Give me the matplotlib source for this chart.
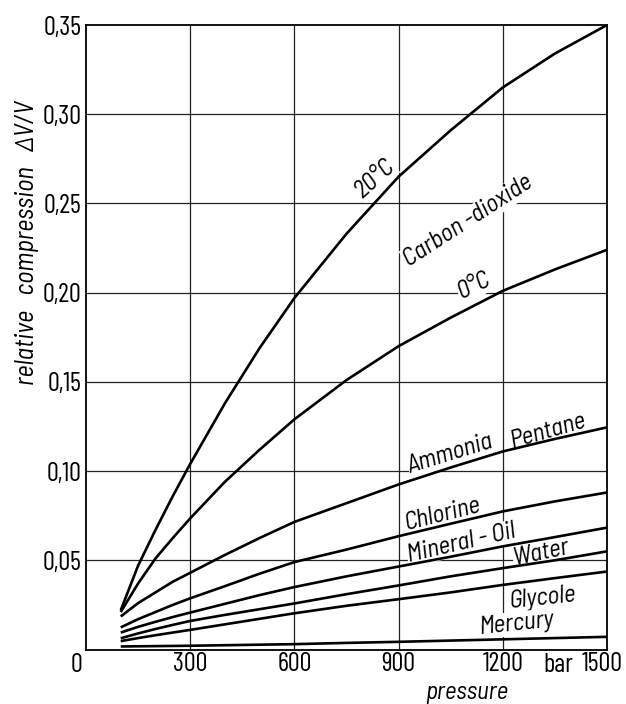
import matplotlib
matplotlib.use("Agg")
import matplotlib.pyplot as plt
from matplotlib.transforms import ScaledTranslation

tick_fonts = ['Barlow Condensed', 'Barlow Semi Condensed', 'Roboto Condensed', 'Liberation Sans', 'DejaVu Sans']
label_fonts = ['Barlow Semi Condensed', 'Barlow Condensed', 'Roboto Condensed', 'Liberation Sans', 'DejaVu Sans']
plt.rcParams['font.family'] = tick_fonts

pressure = [100, 150, 200, 250, 300, 400, 500, 600, 750, 900, 1050, 1200, 1350, 1500]

co2_20 = [0.022, 0.047, 0.067, 0.086, 0.104, 0.138, 0.169, 0.197, 0.233, 0.265, 0.291, 0.315, 0.334, 0.350]
co2_0 = [0.021, 0.037, 0.051, 0.0625, 0.0735, 0.094, 0.112, 0.129, 0.151, 0.170, 0.186, 0.201, 0.213, 0.224]
ammonia = [0.0185, 0.026, 0.032, 0.038, 0.043, 0.053, 0.0625, 0.0715, 0.082, 0.0925, 0.102, 0.111, 0.118, 0.1245]
chlorine = [0.0124, 0.017, 0.021, 0.025, 0.0287, 0.0355, 0.0425, 0.049, 0.056, 0.0635, 0.0705, 0.0774, 0.083, 0.088]
mineral_oil = [0.0095, 0.0127, 0.0155, 0.0182, 0.0207, 0.0256, 0.0305, 0.035, 0.041, 0.0465, 0.052, 0.0578, 0.063, 0.0683]
water = [0.0063, 0.009, 0.0115, 0.0138, 0.016, 0.0194, 0.0226, 0.0258, 0.031, 0.0359, 0.041, 0.0456, 0.050, 0.055]
glycole = [0.0047, 0.0064, 0.008, 0.0095, 0.011, 0.0141, 0.0172, 0.0203, 0.0245, 0.0282, 0.032, 0.0362, 0.040, 0.0437]
mercury = [0.0017, 0.0018, 0.0019, 0.0020, 0.0021, 0.0024, 0.0027, 0.0030, 0.0037, 0.0043, 0.0050, 0.0057, 0.0064, 0.0071]

series = [co2_20, co2_0, ammonia, chlorine, mineral_oil, water, glycole, mercury]

x_ticks = [300, 600, 900, 1200, 1500]
x_tick_labels = ['300', '600', '900', '1200', '1500']
y_ticks = [0.05, 0.10, 0.15, 0.20, 0.25, 0.30, 0.35]
y_tick_labels = ['0,05', '0,10', '0,15', '0,20', '0,25', '0,30', '0,35']

# label text, x, y, rotation
curve_labels = [
    ('20°C', 832, 0.2638, 42),
    ('Carbon -dioxide', 1100, 0.2402, 33),
    ('0°C', 1117, 0.2037, 26),
    ('Ammonia', 1050, 0.1095, 17),
    ('Pentane', 1330, 0.1225, 16),
    ('Chlorine', 1025, 0.0755, 14),
    ('Mineral - Oil', 1080, 0.0595, 13),
    ('Water', 1310, 0.0545, 12),
    ('Glycole', 1313, 0.0288, 6),
    ('Mercury', 1241, 0.0145, 6),
]

fig = plt.figure(figsize=(6.26, 7.04), dpi=100)
ax = fig.add_axes([86 / 626, 1 - 649.5 / 704, (607 - 86) / 626, (649.5 - 25) / 704])

for s in series:
    ax.plot(pressure, s, color='black', lw=1.9, zorder=3, solid_capstyle='butt')

ax.set_xlim(0, 1500)
ax.set_ylim(0, 0.35)
ax.set_xticks(x_ticks)
ax.set_xticklabels(x_tick_labels)
ax.set_yticks(y_ticks)
ax.set_yticklabels(y_tick_labels)
ax.tick_params(axis='both', length=0, labelsize=19)
ax.tick_params(axis='x', pad=1.5)
ax.tick_params(axis='y', pad=3)

last = ax.get_xticklabels()[-1]
last.set_horizontalalignment('right')
last.set_transform(last.get_transform() + ScaledTranslation(16 / 100, 0, fig.dpi_scale_trans))

for gx in [300, 600, 900, 1200]:
    ax.axvline(gx, color='#222222', lw=0.9, zorder=1)
for gy in [0.05, 0.10, 0.15, 0.20, 0.25, 0.30]:
    ax.axhline(gy, color='#222222', lw=0.9, zorder=1)

for sp in ax.spines.values():
    sp.set_linewidth(1.3)
    sp.set_color('black')

for txt, x, y, rot in curve_labels:
    ax.text(x, y, txt, rotation=rot, rotation_mode='anchor', ha='center', va='center',
            fontsize=18, style='italic', zorder=2, family=label_fonts,
            bbox=dict(facecolor='white', edgecolor='none', pad=0.3))

ax.text(-26, -0.0245, '0', transform=ax.get_xaxis_transform(), ha='center', va='center', fontsize=19)
ax.text(1359, -0.0245, 'bar', transform=ax.get_xaxis_transform(), ha='center', va='center', fontsize=19)

fig.text(27 / 626, 1 - 243 / 704, 'relative   compression   ΔV/V', rotation=90, ha='center', va='center',
         fontsize=19, style='italic', family=label_fonts)
fig.text(467 / 626, 1 - 699 / 704, 'pressure', ha='center', va='baseline', fontsize=18, style='italic',
         family=label_fonts)

fig.savefig('out.png', dpi=100)
